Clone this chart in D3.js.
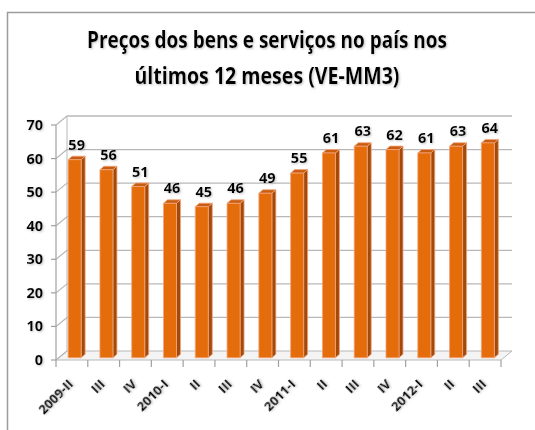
<!DOCTYPE html>
<html><head><meta charset="utf-8">
<script src="https://cdn.jsdelivr.net/npm/d3@7/dist/d3.min.js"></script>
<style>body{margin:0;background:#fff}svg{display:block}text{font-family:"Open Sans","DejaVu Sans",sans-serif;font-weight:bold}</style>
</head><body><svg id="c" width="535" height="430"></svg>
<script>
const categories = ["2009-II","III","IV","2010-I","II","III","IV","2011-I","II","III","IV","2012-I","II","III"];
const values = [59,56,51,46,45,46,49,55,61,63,62,61,63,64];
const yTicks = [0,10,20,30,40,50,60,70];
const titleLines = ["Preços dos bens e serviços no país nos","últimos 12 meses (VE-MM3)"];

const svg = d3.select("#c");
const defs = svg.append("defs");
const f = defs.append("filter").attr("id","sh").attr("x","-10%").attr("y","-10%").attr("width","130%").attr("height","140%");
f.append("feDropShadow").attr("dx",1).attr("dy",1).attr("stdDeviation",0.8).attr("flood-color","#9a9a9a").attr("flood-opacity",0.6);

// outer border
svg.append("path").attr("d","M7.5,430 L7.5,12.5 L535,12.5").attr("fill","none").attr("stroke","#9c9c9c").attr("stroke-width",1.5);

// title
const tw = [360,265];
titleLines.forEach((t,i)=>{
  svg.append("text").attr("x",267).attr("y",[48,84][i]).attr("text-anchor","middle")
    .attr("font-size",23).attr("textLength",tw[i]).attr("lengthAdjust","spacingAndGlyphs")
    .attr("fill","#000").attr("filter","url(#sh)").text(t);
});

// 3D geometry
const DX = -11, DY = 9;            // back -> front offset
const bx0 = 67, bx1 = 512;
const y = d3.scaleLinear().domain([0,70]).range([351,116]);
const x = d3.scaleBand().domain(d3.range(categories.length)).range([bx0,bx1]);

const g = svg.append("g");
const grid = "#b8b8b8";
// floor
g.append("path").attr("d",`M${bx0+DX},${y(0)+DY} L${bx1+DX},${y(0)+DY} L${bx1},${y(0)} L${bx0},${y(0)} Z`)
  .attr("fill","#f4f4f4").attr("stroke",grid).attr("stroke-width",1);
// back wall gridlines
yTicks.forEach(v=>{
  if(v===0) return;
  g.append("line").attr("x1",bx0).attr("x2",bx1).attr("y1",y(v)).attr("y2",y(v)).attr("stroke",grid).attr("stroke-width",v===70?1.5:1.2);
});
// side wall
g.append("line").attr("x1",bx0).attr("x2",bx0).attr("y1",y(70)).attr("y2",y(0)).attr("stroke",grid);
yTicks.forEach(v=>{
  g.append("line").attr("x1",bx0+DX).attr("y1",y(v)+DY).attr("x2",bx0).attr("y2",y(v)).attr("stroke",grid).attr("stroke-width",1.2);
});
// front axis
g.append("line").attr("x1",bx0+DX).attr("x2",bx0+DX).attr("y1",y(70)+DY).attr("y2",y(0)+DY).attr("stroke","#a0a0a0").attr("stroke-width",1.2);
yTicks.forEach(v=>{
  g.append("line").attr("x1",bx0+DX-5).attr("x2",bx0+DX).attr("y1",y(v)+DY).attr("y2",y(v)+DY).attr("stroke","#a0a0a0").attr("stroke-width",1.2);
  g.append("text").attr("x",43).attr("y",y(v)+DY+5).attr("text-anchor","end").attr("font-size",14.5).attr("filter","url(#sh)").text(v);
});
// x ticks
d3.range(categories.length+1).forEach(i=>{
  const xx = bx0 + DX + i*x.step();
  g.append("line").attr("x1",xx).attr("x2",xx).attr("y1",y(0)+DY).attr("y2",y(0)+DY+7).attr("stroke","#a0a0a0").attr("stroke-width",1.2);
});
// x labels
categories.forEach((c,i)=>{
  const cx = x(i)+x.bandwidth()/2 + DX + 2;
  g.append("text").attr("transform",`translate(${cx},385) rotate(-45)`).attr("text-anchor","end")
    .attr("font-size",13).attr("filter","url(#sh)").text(c);
});

// bars
const f2 = 0.75, ox = DX*f2, oy = DY*f2;
const bw = 13, dd = 4, dh = 3.5;
values.forEach((v,i)=>{
  const cx = x(i)+x.bandwidth()/2 + ox;
  const x0 = cx - bw/2, x1 = cx + bw/2;
  const yt = y(v)+oy, yb = y(0)+oy;
  const bg = g.append("g").attr("stroke","#f2a57a").attr("stroke-width",0.8).attr("stroke-linejoin","round");
  bg.append("path").attr("d",`M${x1},${yt} L${x1+dd},${yt-dh} L${x1+dd},${yb-dh} L${x1},${yb} Z`).attr("fill","#a24a0c");
  bg.append("path").attr("d",`M${x0},${yt} L${x0+dd},${yt-dh} L${x1+dd},${yt-dh} L${x1},${yt} Z`).attr("fill","#c85c10");
  bg.append("rect").attr("x",x0).attr("y",yt).attr("width",bw).attr("height",yb-yt).attr("fill","#e46c0a");
  g.append("text").attr("x",cx+2).attr("y",yt-10).attr("text-anchor","middle").attr("font-size",14.5).attr("filter","url(#sh)").text(v);
});
</script></body></html>
